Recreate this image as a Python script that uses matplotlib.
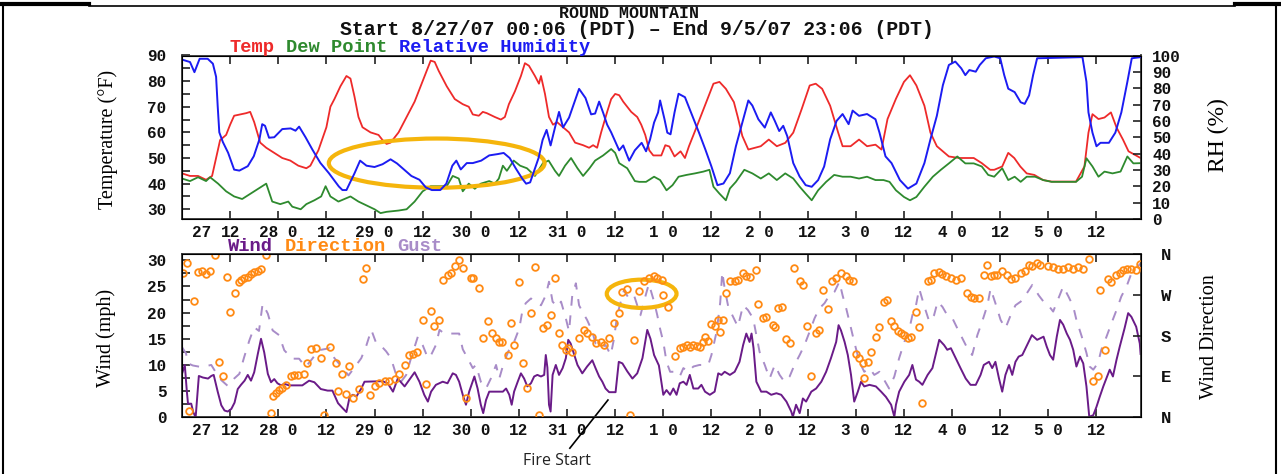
import matplotlib
matplotlib.use('Agg')
import matplotlib.pyplot as plt
from matplotlib.patches import Ellipse
from matplotlib.lines import Line2D

# ---------------- data (hours since 8/27/07 00:00) ----------------
temp = [(0,44),(2,43),(4,43),(6,41.5),(7.5,43),(8.5,50),(9.5,57),(11,59),(12,63),(13,66.5),(16,67.5),(17,68),(18,64),
        (19.5,56),(21,54),(23,52),(25,50),(27,49),(29,47),(31,46),(32,47),(34,53),(36,62),(37,70),(38,73),(39.5,78),
        (41,82),(42,81),(43,74),(44,66),(45,62),(47,60),(49,59),(50,57),(51,55.5),(52,56),(54,60),(56,66),(58,72),
        (60,80),(61,84),(62,88),(63,87.5),(64,84),(66,78),(68,73),(70,71),(71.5,70),(72.5,67),(74,66.5),(75,68),
        (76,67.5),(78,66),(79.5,65),(80.5,66),(81.5,71),(83,76),(84.5,82),(85.5,87),(86.5,86),(88,82),(89,79),
        (89.5,82),(90.5,75),(91.5,66),(92.5,63),(93.5,64),(95,62),(96.5,60),(98,56),(100,55),(101.5,54),(102.5,55),
        (103.5,54),(104.5,60),(106,68),(107,73),(108,75),(109,74.5),(110,72),(111,70),(112,68),(113.5,66),(114.5,63),
        (115.5,59),(116.5,53),(117.5,51),(119.5,51),(120.5,55),(121.5,54.5),(122.8,50.6),(124.3,52.6),(125.4,50),
        (126.4,54.6),(127.9,60.5),(130,69),(132.5,79),(134,79.7),(135.6,77),(137.6,71.8),(138.6,65.8),(139.7,58.6),
        (141.2,53.3),(144.3,54.6),(146.3,57.2),(148.3,54.6),(150.4,55.9),(152.4,59.9),(154.5,69.1),(156.5,78.3),
        (158,79),(159.6,77),(161.6,70.4),(163.6,59.9),(164.7,54.6),(166.7,54.6),(168.8,57.2),(170.8,54.6),
        (172.9,55.2),(174.4,53.3),(175.9,65.2),(178,73.1),(180,79.7),(181.5,82.3),(183.1,78.3),(185.1,70.4),
        (186.6,59.9),(188.2,54.6),(191.2,50.6),(193.8,50),(197.4,50),(199.4,48),(201.5,45.4),(202.5,45.4),
        (204.5,46.7),(206,52),(207.5,50),(209,46.7),(210.6,44),(212.5,43.4),(214.7,41.4),(216.8,40.8),(222.9,40.8),
        (225,46.7),(226,59.9),(227,67.1),(228.5,65.2),(230,65.8),(231.6,67.8),(233,61.9),(234.6,57.2),(236,52.6),
        (239,50)]

dewpoint = [(0,42),(2,41),(4,42.5),(6,41),(7,42.5),(9,40),(11,37),(13,35),(15,34),(17,36),(19,38),(21,40),(22.5,33),
            (24.5,32),(26.5,33),(27.5,31),(29.6,30),(31,32),(33,33.5),(34.7,35),(35.8,39),(37,35),(39,33),(42,35),
            (44,33),(46,31.5),(48,30),(49.5,28.5),(51,29),(54,29.5),(56,30),(58,33),(60,37),(62,39),(64,39),(66,39),
            (67.5,43),(69,42),(70,37),(71.5,40),(73,38),(74.5,40),(76.6,41),(78,40),(79,42),(80,47),(81,45),
            (82.7,49),(84.3,47),(86,46),(88,43),(90,48),(91.4,49),(93,45),(94,43),(95.5,47),(97,50),(98.6,46),
            (100,43),(101.6,46),(103,49),(105,51),(107,53.5),(108,52),(109,48),(111,46),(112.9,41),(114,40.7),
            (115.7,40.7),(117.7,42.7),(119.2,41.4),(120.8,37.4),(122.3,39.4),(123.8,42.7),(125.8,43.4),(127.9,44),
            (130,44.7),(131.5,45.4),(132.5,38.8),(134,36.1),(135.6,33.5),(136.6,38.1),(138.1,40.7),(140.2,45.4),
            (142.2,44),(144.3,42),(146.3,44),(148.3,41.4),(150.4,44),(152.4,42),(154,38.8),(155.5,36.1),(157,33.5),
            (158.6,37.4),(160.6,40.7),(162.6,43.4),(164.7,42.7),(166.7,42.7),(168.8,42),(170.8,42.7),(172.9,41.4),
            (174.9,41.4),(176.4,40.7),(178,37.4),(180,34.8),(181.5,33.5),(183.1,34.8),(185.1,38.8),(187.2,42.7),
            (189.2,45.4),(191.2,47.9),(193.3,50.6),(195.3,47.9),(197.4,47.9),(199.4,46.7),(201,43.4),(202.5,42.7),
            (204.5,46),(206,41.4),(207.6,42.7),(209.1,40.7),(210.6,42.7),(212.7,42.7),(214.7,41.4),(216.8,40.7),
            (222.9,40.7),(224.4,42.7),(225.5,49.9),(227,46.7),(228.5,42.7),(230,44.7),(232,44),(234,44.7),
            (235.7,50.6),(237.2,47.9),(239,48)]

humidity = [(0,97.5),(2,96),(3.1,89.8),(4.4,98),(6.4,98),(7.7,95),(8.5,87),(8.9,69),(9.3,53),(10.2,47),(11.5,40.5),
            (13,30.2),(14.3,29.6),(16.4,32.3),(17.9,38.4),(19.3,48.7),(20,58),(20.7,57),(21.7,49.7),(23,50),(25,55),
            (27.1,55.4),(28.3,54),(29.2,56.5),(30.8,50),(32.5,42.5),(34.5,34.3),(36.6,28.1),(39.1,19.9),(40,17.7),
            (41,17.7),(43,27.9),(44.4,35.7),(46,32.6),(48,31.8),(50,33.5),(52,36.5),(53.6,34),(55.7,29.5),
            (57.2,26.3),(59.2,24),(60.8,19.3),(62.3,17.7),(64.4,17.7),(65.9,21.6),(67.4,32.6),(68.4,35.7),
            (69.5,30.3),(71,34.2),(72.5,34.2),(74.6,35.7),(76.6,38.9),(78.7,39.7),(80.2,40.4),(81.7,37.3),(83.2,31),
            (84.8,24.8),(85.8,21.6),(86.8,22.4),(87.8,29.5),(88.9,37.3),(89.9,48.3),(90.9,54.5),(91.9,45),(93,56),
            (94,65.5),(95,56),(96.5,62),(98,72.6),(99,79.6),(100.6,74),(102,64),(103,64.5),(104,71.8),(105,65),
            (106,57.7),(107,53),(108,47.5),(109,42),(110,45),(111.5,35.7),(112.9,42),(114.6,46.6),(115.7,41.4),
            (116.7,48.7),(117.7,59),(118.7,65.2),(119.2,72.5),(120.3,61),(121,52.8),(121.8,51.8),(122.8,65.2),
            (123.8,76.6),(125.4,74.5),(126.9,65.2),(128.9,52.8),(130.5,42.4),(132,32.1),(133.5,20.7),(135,21.7),
            (136.6,28),(138.1,44.5),(139.7,59),(141.2,72.5),(142.2,69.4),(143.7,61),(145.3,55.9),(146.8,65.2),
            (147.8,60),(148.9,53.8),(149.9,57),(150.9,50.7),(152.4,34.2),(154,25.9),(155.5,20.7),(157,19.7),
            (158.6,23.8),(160.1,32.1),(161.6,48.7),(163.2,60),(164.7,64.2),(166.2,58),(167.2,66.3),(168.8,63.1),
            (170.8,64.2),(172.9,61),(173.9,52.8),(175.4,38.3),(176.9,34.2),(179,23.8),(181,18.6),(183.1,21.7),
            (185.1,34.2),(186.6,48.7),(188.2,63.1),(189.7,81.8),(191.2,94.2),(192.8,96.3),(194.3,92.1),(195.3,88),
            (196.3,91.1),(197.9,90.1),(198.9,94.2),(200.4,98.3),(202.5,99.4),(204,98.3),(205,88),(206,79.7),
            (207.6,77.6),(209.1,71.4),(210.1,70.4),(211.2,75.6),(212.2,88),(213.2,98.3),(224.5,99),(225.5,83.9),
            (226,65.2),(227,52.8),(228,44.5),(229,46.6),(231.1,46.6),(232.7,52.8),(234.2,65.2),(235.7,83.9),
            (236.8,98.3),(239,99)]

wind = [(0,8.3),(0.7,10),(1.2,5),(1.5,2.6),(2.3,2.6),(2.8,1),(3.4,0),(4.2,7.9),(5.2,7.6),(6.5,7.4),(7.3,7.9),
        (7.9,8.1),(8.9,4.9),(9.8,2.3),(10.6,1.3),(11.4,1.1),(12.3,1.6),(13.1,2.8),(13.9,5.4),(14.7,6.2),(15.6,7),
        (16.4,8.1),(17.2,7),(18,8.6),(18.9,12.1),(19.7,15),(20.5,12.4),(21.4,8.3),(22.2,6.7),(23,7.3),(23.8,6.5),
        (24.7,6.1),(25.5,6.4),(26.7,6.1),(30,6.1),(31.7,7),(33,6.7),(34.6,5.4),(36.3,5.1),(37.5,5.1),(38.9,2.7),
        (40.1,1.7),(41,1),(41.8,3.9),(42.6,4.3),(43.5,4),(44.7,5.5),(45.5,6.8),(50,6.9),(51.3,6.5),(52.6,4.9),
        (53.8,7.4),(55.5,5.9),(56.7,7.2),(58,8.6),(59.2,6.8),(60.4,4.3),(61.3,3),(62.1,4.9),(63.3,6.2),(65,6.8),
        (66.2,6.5),(67.5,8.4),(68.3,8.1),(69.1,6.8),(70,4.3),(70.8,2.4),(71.6,4.9),(72.9,7.8),(73.7,5.5),(74.5,2.4),
        (75.1,0.8),(75.8,3.3),(76.6,4.9),(80,4.9),(80.8,5.5),(81.6,4.3),(82.2,2.4),(82.8,4.9),(83.7,6.8),(84.5,8.4),
        (85.3,7.4),(86.1,5.9),(87,6.5),(87.8,7.8),(88.6,8.1),(89.5,7.8),(90.3,8.1),(90.7,11.9),(91.1,9.5),
        (91.5,2.4),(91.9,1.1),(92.4,8.1),(93.2,10),(94,8.1),(94.9,9.4),(95.7,11.3),(96.3,14.8),(96.9,14.1),
        (97.8,11.9),(98.6,10),(99.8,8.4),(101,9.7),(102.3,10.9),(103.1,9.4),(104,7.8),(104.8,6.8),(105.6,5.5),
        (106.5,4.8),(108.1,4.8),(108.9,10.6),(109.8,10.3),(111,8.8),(112.3,7.4),(113.5,8.4),(114.8,11.3),(116,16.7),
        (116.8,15),(117.7,11.9),(118.9,9.9),(120,4.3),(120.8,5.2),(121.7,4.3),(122.5,5.5),(123.3,4.3),(124.1,6.5),
        (125,6.8),(125.8,6.2),(126.6,8.1),(127.5,5.5),(128.7,5.5),(129.5,6.2),(130.4,4.9),(131.6,4.3),(132.8,4.9),
        (133.7,8.4),(134.5,8.1),(135.3,8.7),(136.6,8.1),(137.8,8.7),(139,10.6),(139.9,13.8),(140.7,16),(141.5,14.4),
        (142,16),(142.5,13.2),(143.2,6.8),(144.4,4.9),(145.7,4.9),(146.9,4.3),(148.2,4.6),(149.4,4.3),(150.7,3),
        (151.9,1.1),(152.3,0.1),(153.1,2.4),(154,0.8),(154.8,3.6),(155.6,3),(156.9,4.9),(158.1,5.5),(159.4,6.8),
        (160.6,8.7),(161.8,11.3),(163.1,14.4),(163.7,17.6),(164.3,16.6),(165.2,14.4),(166,11.9),(166.8,8.1),
        (167.6,3),(168.5,4.9),(169.3,6.8),(170.1,5.9),(171.4,6.2),(173,5.9),(174.3,4.9),(175.5,3.9),(176.8,2.4),
        (177.6,0.1),(178,2.4),(178.8,4.9),(180.1,6.8),(181.3,8.1),(182.1,10),(183,7.2),(183.8,6.8),(184.6,6.2),
        (185.9,8.1),(187.1,9.4),(187.9,11.9),(188.8,14.8),(190,13.8),(190.8,12.9),(191.7,13.2),(192.9,11.3),
        (194.1,9.4),(195.4,7.4),(196.6,6.2),(197.9,6.2),(199.1,8.1),(199.9,10),(201.2,10.6),(202,9.4),(202.8,10.6),
        (203.7,7.4),(204.5,4.9),(205.3,8.1),(206.2,10),(207,8.1),(207.8,10.6),(208.6,11.6),(209.5,11.9),
        (210.7,13.8),(211.9,15.7),(213.2,14.8),(214.8,15.4),(215.6,13.5),(216.4,11.9),(217.2,11),(218.1,15.4),
        (218.9,18.6),(219.7,17.7),(220.6,16),(221.4,14.8),(222.2,12.9),(223,9.7),(223.9,11.6),(224.7,10.3),
        (225.5,5.9),(226.2,0.1),(227.2,0.4),(228,2),(228.8,3.9),(229.7,5.9),(230.5,7.5),(231.3,9.1),(232.1,7.8),
        (233,11),(233.8,13.5),(235,17),(235.9,19.9),(236.7,19.2),(237.9,17.3),(238.8,14.1),(239,12.1)]

gust = [(0,13.4),(1,12.2),(1.5,10.3),(2.7,9.9),(4.8,9.6),(7.3,10),(8.5,8.5),(9.8,7.1),(11.4,6.0),(13,7.4),(14.3,8.3),
        (15.5,11.5),(16.8,14.7),(18,17.2),(19.2,16.5),(20.1,21.7),(21.4,19.8),(22.6,16.6),(24.2,15.7),(25.5,12.8),
        (27.5,11.2),(29.2,11.2),(30.8,9.6),(32.5,11.2),(34,12.8),(36.8,13.2),(38,11.3),(40.1,9.4),(41.5,8),(43,9.5),
        (44.7,11.3),(46,13.8),(47.2,16.7),(48.4,14.2),(49.7,13.6),(50.9,12.6),(52.1,11.3),(53.4,8.1),(54.6,6.8),
        (55.9,8.1),(57.1,11.3),(58.8,15.4),(60,13.8),(61.3,11.3),(62.1,11.9),(63.3,13.8),(64.2,16.7),(65.4,16),
        (67.5,16),(69.1,16),(70,13),(71.2,11.3),(72.5,9.4),(73.3,10),(74.5,6.8),(75.8,5.5),(77,7.4),(78.3,10),
        (79.1,7.4),(80.3,10.6),(81.6,13),(82.8,14.4),(84.1,17),(84.9,20.5),(85.7,21.8),(87,22.7),(88.2,22.1),
        (89.5,21.4),(90.7,23.3),(91.5,25.9),(92.4,22.1),(93.6,21.1),(94.5,22.1),(95.7,18.9),(96.5,16.4),(97.3,23.3),
        (98.2,25.6),(99,21.4),(99.8,20.2),(101,18.6),(102.3,16.4),(103.1,14.1),(104.4,13.2),(105.6,13.8),
        (106.9,11.9),(107.7,15),(108.5,19.5),(109.4,22.1),(110.2,24.3),(111.4,22.7),(112.7,23.3),(114.3,19.5),
        (115.6,23.3),(116.4,25.5),(117.7,22.1),(118.5,19.5),(119.2,16.9),(120,14.4),(120.8,10.6),(121.7,8.7),
        (122.9,8.7),(124.1,7.8),(125,9.4),(126.2,8.7),(127.5,9.7),(129,10),(131.2,10),(132,11.9),(133.3,16.4),
        (134.2,22),(134.7,27.8),(135.3,24.6),(136.2,21.1),(137.4,19.2),(138.6,17.3),(139.9,21.4),(141.1,20.5),
        (142.4,18.9),(143.2,15.7),(144,12.5),(145.3,10),(146.5,7.4),(147.8,10),(149,8.1),(150.2,6.8),(151.5,7.8),
        (152.7,10),(154,11.9),(155.2,13.8),(156.5,16.4),(157.7,18.9),(158.9,20.8),(160.2,21.8),(161.4,23.3),
        (162.7,24),(163.9,25.9),(164.7,23.3),(165.6,20.8),(166.4,18.3),(167.6,14.4),(168.9,10.6),(170.1,8.7),
        (171.4,9.4),(172.6,8.1),(173.9,8.7),(175.1,7.1),(176.3,5.5),(177.6,7.8),(178.8,11.3),(180.1,14.4),
        (181.3,16.7),(182.1,19.5),(183,21.4),(183.8,24.6),(185,21.4),(186.3,18.3),(187.5,19.5),(188.4,22.1),
        (189.6,21.1),(190.8,19.5),(192.1,18.9),(193.3,17),(194.6,15),(195.8,13.2),(197,11.9),(198.3,15.7),
        (199.5,18.3),(200.8,21.4),(201.6,24.6),(202.8,21.8),(204.1,18.6),(205.3,17),(206.6,19.5),(207.8,21.4),
        (209.1,22.1),(210.3,23.3),(212,25.3),(213.6,23.3),(214.8,22.1),(215.6,21.8),(217.2,20.2),(218.5,22.7),
        (219.7,25),(221,23.1),(222.2,21.2),(223,18.6),(224.3,15.5),(225.5,12.3),(226.3,9.7),(227.2,9.1),
        (228.4,10.4),(229.2,12.9),(230.5,15.4),(231.7,17.9),(233,20.5),(234.2,23.1),(235.5,25),(236.7,27.5),
        (237.9,28.5),(239,29.4)]

direction = [(0.2,319),(1.3,341),(1.7,14),(2.9,257),(4,321),(5,322),(6,316),(7,322),(8.3,358),(9.3,122),(10.3,91),
             (11.2,310),(12,233),(13.1,275),(14.1,299),(14.7,303),(15.5,307),(16.4,310),(17.2,317),(18,321),
             (18.9,323),(19.7,326),(20.9,358),(22.2,10),(22.6,47),(23.4,54),(24.2,60),(25,65),(25.9,71),(27.1,91),
             (28,93),(29,94),(30.4,95),(31.2,120),(32.1,150),(33.3,153),(34.6,131),(35.4,6),(37,156),(38.3,119),
             (38.9,58),(39.8,95),(41,51),(41.7,114),(42.6,43),(44.1,63),(45.1,305),(45.9,330),(46.8,49),(48,68),
             (49.2,75),(50.5,79),(51.7,80),(53,85),(54.2,95),(55.5,116),(56.7,138),(57.5,139),(58.5,143),(60,215),
             (60.9,73),(62.1,235),(62.9,202),(64,215),(65,303),(66.2,314),(67.1,318),(68.1,333),(69.1,347),(70,330),
             (70.8,42),(72,308),(72.6,308),(74.1,286),(75,174),(76.2,213),(77.4,185),(78.3,174),(79.1,167),
             (79.9,165),(81.2,138),(82,207),(82.8,160),(84.1,298),(84.9,119),(86.1,65),(87,230),(88,332),(88.9,5),
             (89.9,196),(91.1,204),(91.9,226),(93,307),(94,185),(94.8,160),(95.7,149),(96.3,152),(97.2,145),(99,174),
             (100.2,193),(101.1,185),(102.3,178),(103.1,163),(104.4,167),(105.2,160),(106.5,174),(107.7,208),
             (108.9,230),(109.8,277),(111,283),(111.8,5),(112.7,171),(113.9,279),(115.2,300),(116.4,307),(117.7,311),
             (118.5,308),(119.6,303),(120,270),(121.2,244),(122.9,135),(124.1,152),(125,156),(125.8,160),(126.6,154),
             (127.3,160),(128.3,158),(129.1,155),(129.9,167),(130.4,178),(131.2,169),(132,205),(132.8,202),
             (133.7,215),(134.1,189),(134.9,215),(135.7,274),(136.6,300),(137.8,300),(138.6,303),(139.9,318),
             (140.7,311),(141.5,309),(143,325),(143.6,250),(144.9,219),(145.7,222),(147.4,204),(147.8,198),
             (148.6,242),(149.7,244),(150.7,173),(151.5,163),(152.7,329),(154,300),(154.8,292),(155.8,202),
             (156.9,90),(158.1,185),(158.9,193),(159.8,281),(161,238),(162.1,300),(163.1,307),(164.3,318),
             (165.6,311),(166.4,303),(167.2,301),(168.1,139),(168.9,130),(169.7,119),(170.1,86),(171,123),
             (171.8,145),(173,178),(173.9,198),(175.1,255),(175.7,259),(176.8,213),(177.6,202),(178.4,190),
             (179.2,185),(180.1,182),(180.9,174),(181.7,176),(183,233),(183.8,200),(184.6,31),(185.9,300),
             (186.7,303),(187.5,318),(188.8,320),(189.6,316),(190.4,311),(191.7,308),(192.9,303),(194.1,307),
             (195.8,274),(196.6,266),(197.5,263),(198.7,263),(200,314),(200.8,335),(201.6,311),(202.4,313),
             (203.3,314),(204.5,322),(205.7,313),(206.6,305),(207.8,308),(209.1,318),(210.3,323),(211.1,336),
             (212,333),(213.2,340),(214,335),(216,334),(217.2,331),(218.5,328),(219.7,326),(221,332),(222.2,328),
             (223.5,331),(224.7,328),(226.2,350),(227.2,80),(228.4,91),(228.8,281),(230.1,149),(230.9,304),
             (231.7,299),(232.8,314),(233.8,319),(234.6,325),(235.6,326),(236.7,328),(237.9,325),(238.9,338)]

xtick_pos = [12, 24, 36, 48, 60, 72, 84, 96, 108, 120, 132, 144, 156, 168, 180, 192, 204, 216, 228]
xtick_lab = ['12', '28 0', '12', '29 0', '12', '30 0', '12', '31 0', '12', '1 0',
             '12', '2 0', '12', '3 0', '12', '4 0', '12', '5 0', '12']
first_day_label = '27'
dir_ticks = [0, 90, 180, 270, 360]
dir_labels = ['N', 'E', 'S', 'W', 'N']

# ---------------- styling ----------------
C_TEMP = '#EE2A2A'
C_DEW = '#2E8A2E'
C_RH = '#1C1CF2'
C_WIND = '#6A1B88'
C_GUST = '#A88CC8'
C_DIR = '#FF8A14'
C_ELL = '#F5B50C'
MONO = 'Liberation Mono'
SERIF = 'Liberation Serif'

W, H = 1281, 474
fig = plt.figure(figsize=(W / 100, H / 100), dpi=100)
fig.patch.set_facecolor('white')

def box(l, t, r, b):
    return [l / W, 1 - b / H, (r - l) / W, (b - t) / H]

ax1 = fig.add_axes(box(182, 55.5, 1141, 219))
ax1r = ax1.twinx()
ax2 = fig.add_axes(box(182, 254, 1141, 417.3))
ax2r = ax2.twinx()

def unzip(pairs):
    return [p[0] for p in pairs], [p[1] for p in pairs]

th, tv = unzip(temp)
dh, dv = unzip(dewpoint)
rh_h, rh_v = unzip(humidity)
wh, wv = unzip(wind)
gh, gv = unzip(gust)
dirh, dirv = unzip(direction)

ax1.plot(th, tv, color=C_TEMP, lw=1.3)
ax1.plot(dh, dv, color=C_DEW, lw=1.3)
ax1r.plot(rh_h, rh_v, color=C_RH, lw=1.4)

ax2.plot(gh, gv, color=C_GUST, lw=1.4, ls=(0, (5, 5)))
ax2.plot(wh, wv, color=C_WIND, lw=1.4)
ax2r.plot(dirh, dirv, ls='none', marker='o', ms=4.8, mfc='none', mec=C_DIR, mew=1.3)

XMAX = 239.1
for a in (ax1, ax1r, ax2, ax2r):
    a.set_xlim(0, XMAX)
ax1.set_ylim(26.2, 90)
ax1r.set_ylim(0, 100)
ax2.set_ylim(0, 31.2)
ax2r.set_ylim(0, 360)

tick_font = dict(family=MONO, weight='bold', size=11.5)
for a in (ax1, ax2):
    a.set_xticks(xtick_pos)
    a.set_xticklabels(xtick_lab, fontdict=tick_font)
    a.set_xticks([4.9], minor=True)
    a.set_xticklabels([first_day_label], minor=True, fontdict=tick_font)
    a.tick_params(axis='x', which='major', direction='in', length=6, width=1.2,
                  top=True, bottom=True, pad=4, colors='#222222', labelcolor='#111111')
    a.tick_params(axis='x', which='minor', length=0, pad=4, labelcolor='#111111')
    for s in a.spines.values():
        s.set_linewidth(1.3)
        s.set_color('#333333')

ax1.set_yticks(range(30, 91, 10))
ax1.set_yticks(range(35, 90, 10), minor=True)
ax1.set_yticklabels([str(v) for v in range(30, 91, 10)], fontdict=tick_font)
ax2.set_yticks(range(0, 31, 5))
ax2.set_yticks([2.5, 7.5, 12.5, 17.5, 22.5, 27.5], minor=True)
ax2.set_yticklabels([str(v) for v in range(0, 31, 5)], fontdict=tick_font)
for a in (ax1, ax2):
    a.tick_params(axis='y', which='both', direction='in', length=6, width=1.2,
                  left=True, right=False, pad=11, colors='#222222', labelcolor='#111111')

ax1r.set_yticks(range(0, 101, 10))
ax1r.set_yticklabels([str(v) for v in range(0, 101, 10)], fontdict=tick_font)
ax1r.tick_params(axis='y', direction='in', length=6, width=1.2, pad=8, colors='#222222',
                 labelcolor='#111111')
ax2r.set_yticks(dir_ticks)
ax2r.set_yticklabels(dir_labels, fontdict=dict(family=MONO, weight='bold', size=12.5))
ax2r.tick_params(axis='y', direction='in', length=6, width=1.2, pad=14, colors='#222222',
                 labelcolor='#111111')
for a in (ax1r, ax2r):
    a.tick_params(axis='x', which='both', length=0, labelbottom=False)

# axis titles
lab_font = dict(family=SERIF, size=14.5)
fig.text(108 / W, 1 - 139 / H, 'Temperature (°F)', rotation=90, ha='center', va='center', **lab_font)
fig.text(106 / W, 1 - 338 / H, 'Wind (mph)', rotation=90, ha='center', va='center', **lab_font)
fig.text(1218 / W, 1 - 135 / H, 'RH (%)', rotation=90, ha='center', va='center',
         family=SERIF, size=17)
fig.text(1210 / W, 1 - 337 / H, 'Wind Direction', rotation=90, ha='center', va='center', **lab_font)

# titles
fig.text(629 / W, 1 - 13.5 / H, 'ROUND MOUNTAIN', ha='center', va='center',
         family=MONO, weight='bold', size=12, color='#111111')
fig.text(637 / W, 1 - 29.5 / H, 'Start 8/27/07 00:06 (PDT) \u2013 End 9/5/07 23:06 (PDT)',
         ha='center', va='center', family=MONO, weight='bold', size=14.3, color='#111111')

# coloured legend words
leg_font = dict(family=MONO, weight='bold', size=13.5)
def word_row(items, x0, y, step):
    x = x0
    for txt, col in items:
        fig.text(x / W, 1 - y / H, txt, color=col, ha='left', va='center', **leg_font)
        x += (len(txt) + 1) * step

word_row([('Temp', C_TEMP), ('Dew Point', C_DEW), ('Relative Humidity', C_RH)], 230, 47, 11.25)
word_row([('Wind', C_WIND), ('Direction', C_DIR), ('Gust', C_GUST)], 228, 247, 11.25)

# annotations
ax1.add_patch(Ellipse((63.5, 48.0), 53.8, 19.2, fill=False, ec=C_ELL, lw=3, clip_on=False, zorder=5))
ax2.add_patch(Ellipse((114.6, 23.6), 17.4, 5.4, fill=False, ec=C_ELL, lw=3, clip_on=False, zorder=5))
ax2.plot([96.7, 106.2], [-5.9, 3.3], color='black', lw=1.2, clip_on=False)
ax2.text(93.5, -8.4, 'Fire Start', ha='center', va='center', fontsize=11.5, family='Open Sans',
         color='#222222', clip_on=False)

# slide frame lines
def fline(x0, y0, x1, y1, lw):
    fig.add_artist(Line2D([x0 / W, x1 / W], [1 - y0 / H, 1 - y1 / H], color='black', lw=lw,
                          transform=fig.transFigure))

fline(0, 4, 89, 4, 3)
fline(89, 6, 1235, 6, 1.2)
fline(1235, 4, W, 4, 3)
fline(3, 6, 3, H, 1.5)
fline(1276, 4, 1276, H, 1.5)

fig.savefig('out.png', dpi=100, facecolor='white')
